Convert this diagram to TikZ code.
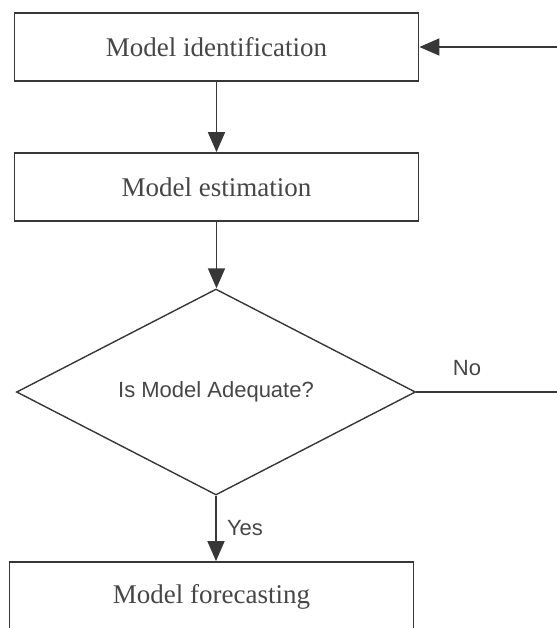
\documentclass[tikz,border=0pt]{standalone}
\usepackage{fontspec}
\setmainfont{Liberation Serif}
\setsansfont{Liberation Sans}
\usepackage{tikz}
\usetikzlibrary{arrows.meta,positioning,shapes.geometric}
\definecolor{flowgray}{RGB}{55,55,55}
\definecolor{textgray}{RGB}{70,70,70}

\begin{document}
\begin{tikzpicture}[x=0.5pt,y=-0.5pt,
  stepbox/.style={draw=flowgray, line width=0.9pt, rectangle,
    minimum width=202pt, minimum height=34pt, inner sep=0pt,
    font=\fontsize{13.5}{15}\selectfont, text=textgray},
  decide/.style={draw=flowgray, line width=0.7pt, diamond, aspect=2,
    minimum width=199.5pt, minimum height=103pt, inner sep=0pt,
    font=\sffamily\fontsize{11}{13}\selectfont, text=textgray},
  flowlabel/.style={font=\sffamily\fontsize{11}{13}\selectfont, text=textgray},
  flowarrow/.style={draw=flowgray, line width=0.9pt, -{Triangle[width=8.5pt,length=10pt]}}]
% Canvas
\useasboundingbox (0,0) rectangle (557,628);
\clip (0,0) rectangle (557,628);
% Steps
\node[stepbox] (ident) at (216.5,47) {Model identification};
\node[stepbox] (estim) at (216.5,187) {Model estimation};
\node[decide] (adequ) at (216,392) {\raisebox{-4pt}{Is Model Adequate?}};
\node[stepbox, minimum height=35pt] (forec) at (211.5,597) {\raisebox{2pt}{Model forecasting}};
% Main flow
\draw[flowarrow] (ident) -- (estim);
\draw[flowarrow] (estim.south) -- (estim.south |- adequ.north);
\draw[flowarrow] (adequ.south) -- (adequ.south |- forec.north);
\node[flowlabel] (yes) at (245,528) {Yes};
% Feedback loop
\coordinate (back) at (580,392);
\draw[flowarrow] (adequ.east) -- (adequ.east -| back) |- (ident.east);
\node[flowlabel] (no) at (467,368) {No};
\end{tikzpicture}
\end{document}
